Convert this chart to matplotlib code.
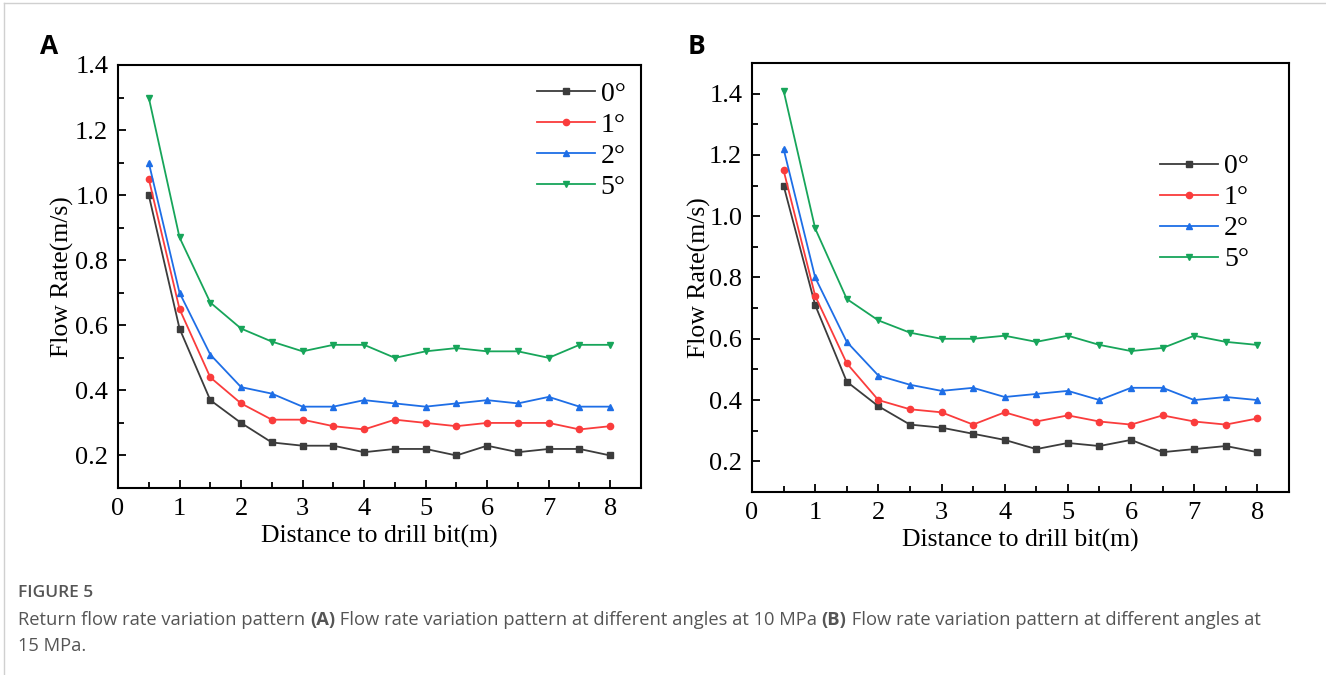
import matplotlib
matplotlib.use("Agg")
import matplotlib.pyplot as plt
from matplotlib.lines import Line2D
from matplotlib.ticker import MultipleLocator

distance = [0.5, 1, 1.5, 2, 2.5, 3, 3.5, 4, 4.5, 5, 5.5, 6, 6.5, 7, 7.5, 8]
angle_labels = ["0°", "1°", "2°", "5°"]

# panel A: 10 MPa
rate_10mpa_0 = [1.00, 0.59, 0.37, 0.30, 0.24, 0.23, 0.23, 0.21, 0.22, 0.22, 0.20, 0.23, 0.21, 0.22, 0.22, 0.20]
rate_10mpa_1 = [1.05, 0.65, 0.44, 0.36, 0.31, 0.31, 0.29, 0.28, 0.31, 0.30, 0.29, 0.30, 0.30, 0.30, 0.28, 0.29]
rate_10mpa_2 = [1.10, 0.70, 0.51, 0.41, 0.39, 0.35, 0.35, 0.37, 0.36, 0.35, 0.36, 0.37, 0.36, 0.38, 0.35, 0.35]
rate_10mpa_5 = [1.30, 0.87, 0.67, 0.59, 0.55, 0.52, 0.54, 0.54, 0.50, 0.52, 0.53, 0.52, 0.52, 0.50, 0.54, 0.54]

# panel B: 15 MPa
rate_15mpa_0 = [1.10, 0.71, 0.46, 0.38, 0.32, 0.31, 0.29, 0.27, 0.24, 0.26, 0.25, 0.27, 0.23, 0.24, 0.25, 0.23]
rate_15mpa_1 = [1.15, 0.74, 0.52, 0.40, 0.37, 0.36, 0.32, 0.36, 0.33, 0.35, 0.33, 0.32, 0.35, 0.33, 0.32, 0.34]
rate_15mpa_2 = [1.22, 0.80, 0.59, 0.48, 0.45, 0.43, 0.44, 0.41, 0.42, 0.43, 0.40, 0.44, 0.44, 0.40, 0.41, 0.40]
rate_15mpa_5 = [1.41, 0.96, 0.73, 0.66, 0.62, 0.60, 0.60, 0.61, 0.59, 0.61, 0.58, 0.56, 0.57, 0.61, 0.59, 0.58]

COLORS = ["#3c3c3c", "#fa3c3c", "#1e6ee6", "#17a55a"]
MARKERS = ["s", "o", "^", "v"]
SERIF = "Liberation Serif"
SANS = "Open Sans"

plt.rcParams["font.family"] = SERIF


def draw_panel(ax, series, ylim, legend_anchor, ylabel_pad):
    for values, label, color, marker in zip(series, angle_labels, COLORS, MARKERS):
        ax.plot(distance, values, color=color, marker=marker, markersize=4.5,
                linewidth=1.3, label=label)

    ax.set_xlim(0, 8.5)
    ax.set_ylim(*ylim)
    ax.xaxis.set_major_locator(MultipleLocator(1))
    ax.xaxis.set_minor_locator(MultipleLocator(0.5))
    ax.yaxis.set_major_locator(MultipleLocator(0.2))
    ax.yaxis.set_minor_locator(MultipleLocator(0.1))
    ax.tick_params(which="both", direction="in", width=1.3, labelsize=19,
                   top=False, right=False)
    ax.tick_params(which="major", length=6, pad=7)
    ax.tick_params(which="minor", length=4)
    for spine in ax.spines.values():
        spine.set_linewidth(1.5)

    ax.set_xlabel("Distance to drill bit(m)", fontsize=18.5, labelpad=4)
    ax.set_ylabel("Flow Rate(m/s)", fontsize=18.5, labelpad=ylabel_pad)

    ax.legend(loc="upper left", bbox_to_anchor=legend_anchor, frameon=False,
              fontsize=20, handlelength=2.1, handletextpad=0.2,
              labelspacing=0.2, borderpad=0, borderaxespad=0)


fig = plt.figure(figsize=(13.26, 6.75), dpi=100)

ax_a = fig.add_axes([118 / 1326, 1 - 488 / 675, 523 / 1326, 423 / 675])
draw_panel(ax_a, [rate_10mpa_0, rate_10mpa_1, rate_10mpa_2, rate_10mpa_5],
           (0.1, 1.4), (0.801, 0.962), 1)

ax_b = fig.add_axes([752 / 1326, 1 - 492 / 675, 537 / 1326, 429 / 675])
draw_panel(ax_b, [rate_15mpa_0, rate_15mpa_1, rate_15mpa_2, rate_15mpa_5],
           (0.1, 1.5), (0.76, 0.788), -1)

# panel letters
fig.text(40 / 1326, 1 - 47 / 675, "A", fontsize=19, fontweight="bold",
         family=SANS, va="center", ha="left")
fig.text(688 / 1326, 1 - 47 / 675, "B", fontsize=19, fontweight="bold",
         family=SANS, va="center", ha="left")

# page frame
fig.add_artist(Line2D([4 / 1326, 1], [1 - 3 / 675, 1 - 3 / 675],
                      transform=fig.transFigure, color="#d0d0d0", linewidth=1))
fig.add_artist(Line2D([4 / 1326, 4 / 1326], [0, 1 - 3 / 675],
                      transform=fig.transFigure, color="#d0d0d0", linewidth=1))

# caption
caption_color = "#555555"
caption_size = 13.2
fig.text(18 / 1326, 1 - 593 / 675, "FIGURE 5", fontsize=12.5, family=SANS,
         fontweight="semibold", color=caption_color, va="center", ha="left")

line1 = [
    ("Return flow rate variation pattern ", "normal"),
    ("(A)", "bold"),
    (" Flow rate variation pattern at different angles at 10 MPa ", "normal"),
    ("(B)", "bold"),
    (" Flow rate variation pattern at different angles at", "normal"),
]
fig.canvas.draw()
renderer = fig.canvas.get_renderer()
x_px = 18
for piece, weight in line1:
    t = fig.text(x_px / 1326, 1 - 620 / 675, piece, fontsize=caption_size, family=SANS,
                 fontweight=weight, color=caption_color, va="center", ha="left")
    x_px += t.get_window_extent(renderer).width
fig.text(18 / 1326, 1 - 646 / 675, "15 MPa.", fontsize=caption_size, family=SANS,
         color=caption_color, va="center", ha="left")

fig.savefig("out.png", dpi=100)
